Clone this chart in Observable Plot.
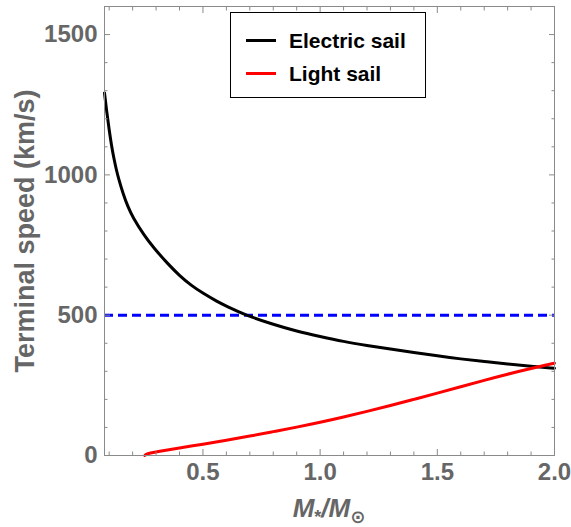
<!DOCTYPE html>
<html><head><meta charset="utf-8">
<script src="https://cdn.jsdelivr.net/npm/d3@7"></script>
<script src="https://cdn.jsdelivr.net/npm/@observablehq/plot@0.6"></script>
<style>
body{margin:0;background:#fff;}
#wrap{position:relative;width:571px;height:527px;font-family:"Liberation Sans",Arial,sans-serif;}
#legend{position:absolute;left:230px;top:12px;width:194px;height:84px;border:1.5px solid #000;background:#fff;}
.row{position:absolute;left:0;height:30px;}
.sw{position:absolute;left:15px;width:30px;height:3px;}
.lt{position:absolute;left:58px;font-size:21px;font-weight:bold;color:#000;white-space:nowrap;line-height:1;}
#ylab{position:absolute;left:25px;top:231px;transform:translate(-50%,-50%) rotate(-90deg);font-size:27px;font-weight:bold;color:#666;white-space:nowrap;}
#xlab{position:absolute;left:329px;top:495px;transform:translateX(-50%);font-size:26px;font-weight:bold;font-style:italic;color:#666;white-space:nowrap;line-height:1;}
#xlab sub{font-size:18px;vertical-align:-6px;font-style:normal;}
</style></head><body>
<div id="wrap"></div>
<script>
// Electric sail terminal speed vs stellar mass
const massElectric  = [0.08,0.09,0.10,0.11,0.12,0.13,0.14,0.16,0.18,0.20,0.25,0.29,0.35,0.40,0.45,0.50,0.56,0.60,0.68,0.80,0.90,1.00,1.10,1.20,1.30,1.40,1.50,1.60,1.70,1.80,1.90,2.00];
const speedElectric = [1292,1222,1160,1104,1059,1020,987,931,886,850,783,740,683,641,606,578,549,532,501,467,443,424,406,392,379,367,355,344,335,326,318,311];
// Light sail terminal speed vs stellar mass
const massLight  = [0.252,0.26,0.30,0.40,0.50,0.60,0.70,0.80,0.90,1.00,1.10,1.20,1.30,1.40,1.50,1.60,1.70,1.80,1.90,2.00];
const speedLight = [0,6,13,27,40,54,69,85,101,118,137,157,178,200,222,245,268,290,310,329];
// Reference speed (dashed line)
const referenceSpeed = [500];
// Ticks
const xMajorTicks = [0.5,1.0,1.5,2.0];
const xMinorTicks = [0.1,0.2,0.3,0.4,0.6,0.7,0.8,0.9,1.1,1.2,1.3,1.4,1.6,1.7,1.8,1.9];
const yMajorTicks = [0,500,1000,1500];
const yMinorTicks = [100,200,300,400,600,700,800,900,1100,1200,1300,1400,1600];
const seriesNames = ["Electric sail","Light sail"];
const seriesColors = ["#000000","#ff0000"];

const electric = massElectric.map((m,i)=>({m, v:speedElectric[i]}));
const light = massLight.map((m,i)=>({m, v:speedLight[i]}));

const tickStyle = {stroke:"#8a8a8a", strokeWidth:1, label:null};
const blank = () => "";

const chart = Plot.plot({
  width:571, height:527,
  marginLeft:104, marginRight:17, marginTop:6, marginBottom:72,
  x:{domain:[0.08,2.0]},
  y:{domain:[0,1600]},
  style:{fontFamily:"'Liberation Sans', Arial, sans-serif", background:"transparent", overflow:"visible"},
  marks:[
    Plot.ruleY(referenceSpeed, {stroke:"#0000ff", strokeWidth:3, strokeDasharray:"9,5"}),
    Plot.line(electric, {x:"m", y:"v", stroke:seriesColors[0], strokeWidth:3, curve:"basis"}),
    Plot.line(light, {x:"m", y:"v", stroke:seriesColors[1], strokeWidth:3, curve:"basis"}),
    Plot.frame({stroke:"#8a8a8a", strokeWidth:1}),
    Plot.axisX(xMajorTicks, {anchor:"bottom", tickSize:-6, tickPadding:13, tickFormat:d=>d.toFixed(1), fontSize:24, fontWeight:"bold", fill:"#666", ...tickStyle}),
    Plot.axisX(xMinorTicks, {anchor:"bottom", tickSize:-3.5, tickFormat:blank, ...tickStyle}),
    Plot.axisX(xMajorTicks, {anchor:"top", tickSize:-6, tickFormat:blank, ...tickStyle}),
    Plot.axisX(xMinorTicks, {anchor:"top", tickSize:-3.5, tickFormat:blank, ...tickStyle}),
    Plot.axisY(yMajorTicks, {anchor:"left", tickSize:-6, tickPadding:13, tickFormat:d=>String(d), fontSize:24, fontWeight:"bold", fill:"#666", ...tickStyle}),
    Plot.axisY(yMinorTicks, {anchor:"left", tickSize:-3.5, tickFormat:blank, ...tickStyle}),
    Plot.axisY(yMajorTicks, {anchor:"right", tickSize:-6, tickFormat:blank, ...tickStyle}),
    Plot.axisY(yMinorTicks, {anchor:"right", tickSize:-3.5, tickFormat:blank, ...tickStyle})
  ]
});

const wrap = document.getElementById("wrap");
wrap.appendChild(chart);

const ylab = document.createElement("div");
ylab.id = "ylab"; ylab.textContent = "Terminal speed (km/s)";
wrap.appendChild(ylab);

const xlab = document.createElement("div");
xlab.id = "xlab"; xlab.innerHTML = "M<sub>*</sub>/M<sub style=\"font-family:'DejaVu Sans'\">⊙</sub>";
wrap.appendChild(xlab);

const legend = document.createElement("div");
legend.id = "legend";
seriesNames.forEach((name,i)=>{
  const row = document.createElement("div");
  row.className = "row"; row.style.top = (i*33 + 12) + "px"; row.style.width = "100%";
  const sw = document.createElement("div");
  sw.className = "sw"; sw.style.background = seriesColors[i]; sw.style.top = "14px";
  const t = document.createElement("div");
  t.className = "lt"; t.textContent = name; t.style.top = "5px";
  row.appendChild(sw); row.appendChild(t);
  legend.appendChild(row);
});
wrap.appendChild(legend);
</script>
</body></html>
